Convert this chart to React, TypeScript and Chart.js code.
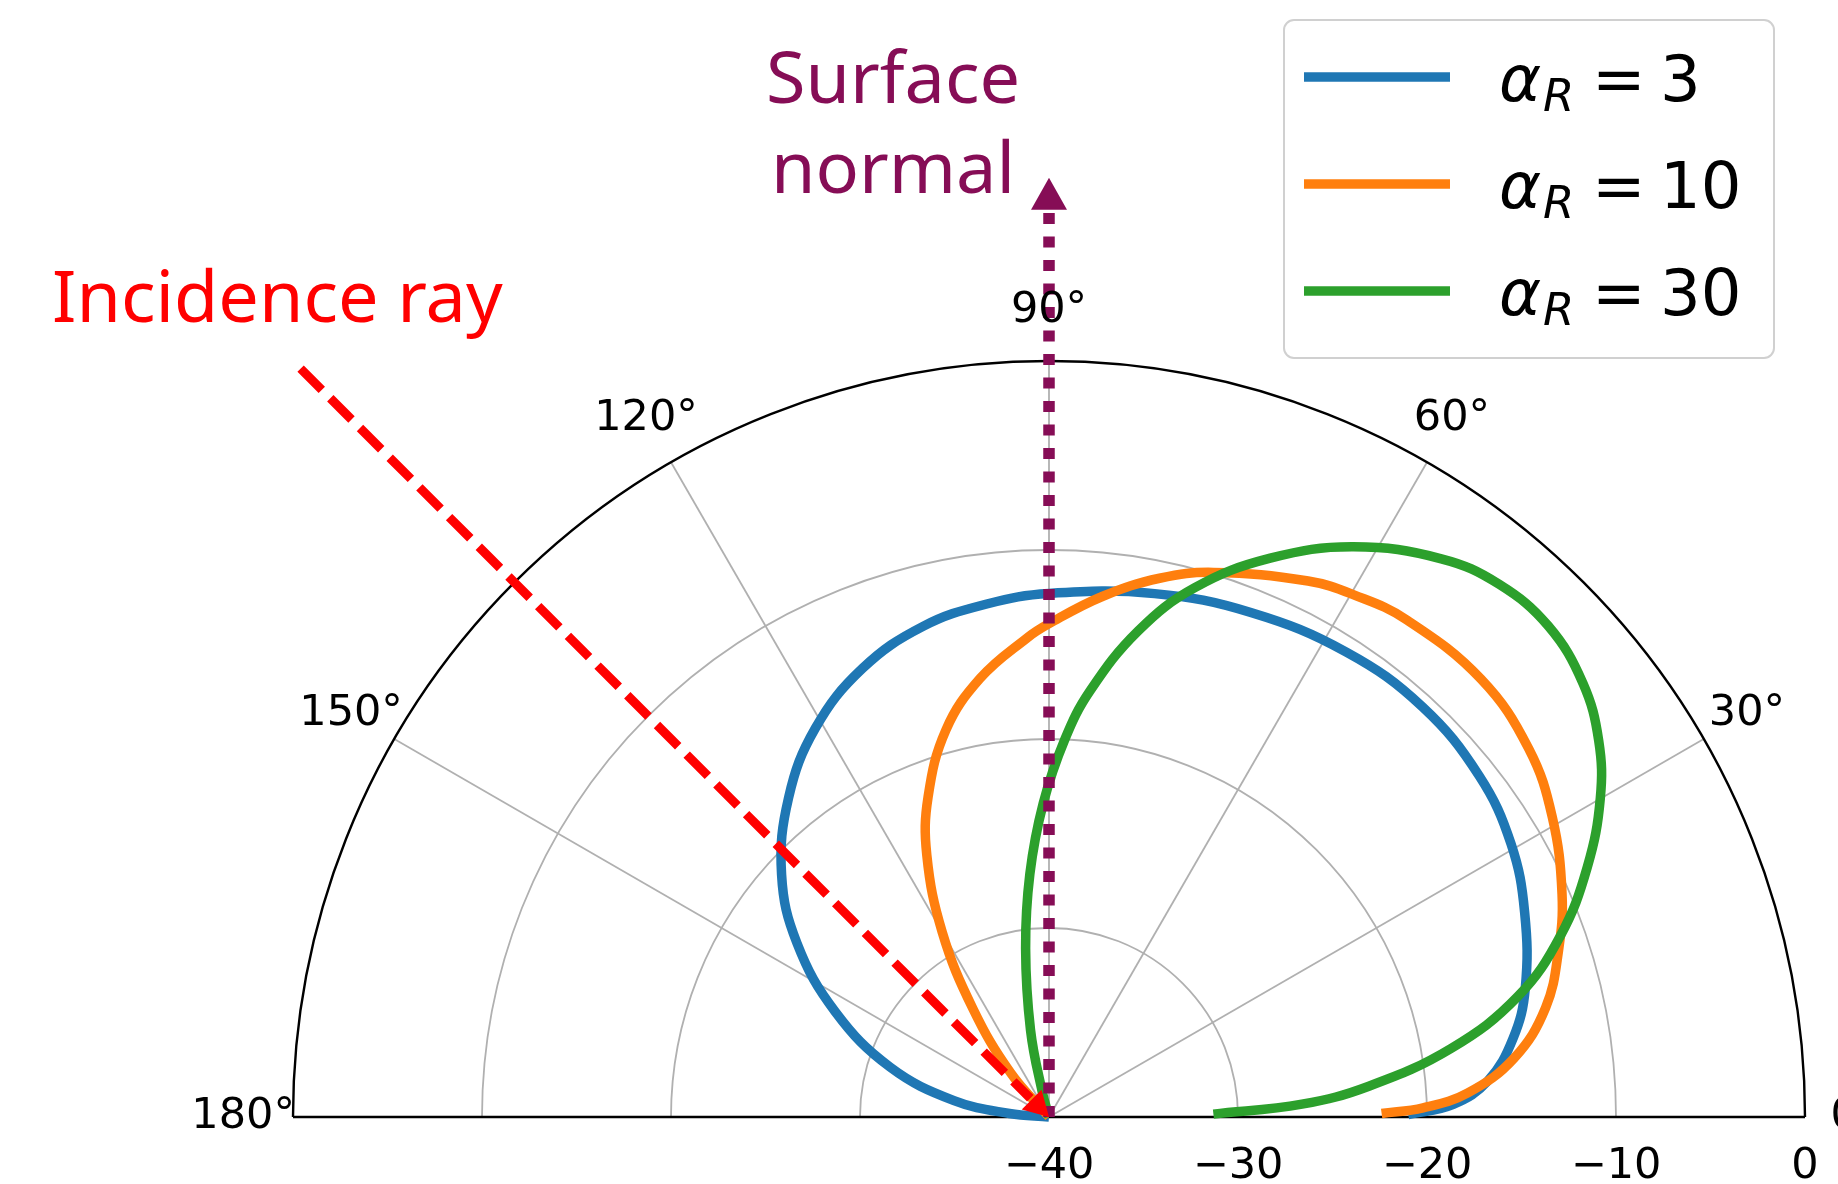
import React, { useEffect, useRef } from "react";
import { Chart, registerables } from "chart.js";
Chart.register(...registerables);

// ---- data ----
const R_MIN = -40;
const R_MAX = 0;
const radialTicks = [-40, -30, -20, -10, 0];
const ringLevels = [-30, -20, -10];
const angularTicks = [0, 30, 60, 90, 120, 150, 180];
const alphaValues = [3, 10, 30];
const seriesColors = ["#1f77b4", "#ff7f0e", "#2ca02c"];

// angle in degrees, level in dB
const blueTheta = [0.4, 1.8, 4.7, 9.6, 15.1, 23.3, 30.6, 38.4, 47.7, 57.4, 68.2, 78.6, 90, 96.8, 104.4, 112.6, 121, 129.2, 137.8, 145.4, 153.8, 162.6, 170.2, 175, 180];
const blueDb = [-21.0, -18.6, -16.7, -15.1, -13.9, -12.6, -11.6, -10.95, -10.65, -10.8, -11.25, -11.75, -12.3, -12.65, -13.2, -14.3, -16.0, -18.2, -20.9, -23.8, -27.4, -31.2, -34.9, -37.9, -40];

const orangeTheta = [0.6, 1.4, 3.3, 7.2, 12.4, 18.05, 23.5, 30.8, 37.5, 45.4, 54.4, 59.6, 64.2, 73.2, 78.4, 84.1, 90, 92.7, 98.9, 104.9, 110.7, 115, 120, 125.1, 131, 138];
const orangeDb = [-22.4, -20.2, -17.8, -15.2, -13.1, -11.65, -10.4, -9.0, -8.0, -7.45, -7.6, -8.0, -8.5, -9.9, -10.9, -12.3, -13.9, -14.65, -16.5, -18.8, -21.9, -24.7, -28.7, -33.0, -36.9, -40];

const greenTheta = [1.0, 2.9, 5.5, 9.7, 14.4, 19.5, 24.9, 30.05, 34.4, 39.1, 44.5, 49.8, 54.9, 61.9, 68.4, 74.6, 79.6, 84.5, 87.6, 91.05, 94.5, 97.9, 102, 105, 109];
const greenDb = [-31.3, -26.6, -23.0, -18.4, -14.4, -11.3, -8.6, -6.3, -4.75, -3.6, -2.95, -3.1, -3.9, -5.8, -8.2, -10.95, -13.85, -17.35, -20.0, -23.4, -27.1, -31.0, -35.3, -38.6, -40];

const incidenceTheta = [135, 135];
const incidenceDb = [16, -38.6];
const incidenceTipDb = -40;

const normalTheta = [90, 90];
const normalDb = [-40, 8.0];
const normalTipDb = 9.7;

// ---- helpers ----
const toXY = (thetaDeg: number, db: number) => {
  const r = Math.max(db, R_MIN) - R_MIN;
  const t = (thetaDeg * Math.PI) / 180;
  return { x: r * Math.cos(t), y: r * Math.sin(t) };
};
const pts = (th: number[], db: number[]) => th.map((t, i) => toXY(t, db[i]));

const W = 1838;
const H = 1184;
const CX = 1049;
const CY = 1117;
const RPX = 756;
const PPU = RPX / (R_MAX - R_MIN);
const PURPLE = "#860D56";

const polarPlugin = {
  id: "polarDecor",
  beforeDatasetsDraw(chart: any) {
    const { ctx } = chart;
    const xs = chart.scales.x;
    const ys = chart.scales.y;
    const cx = xs.getPixelForValue(0);
    const cy = ys.getPixelForValue(0);
    const ppu = xs.getPixelForValue(1) - cx;
    const R = (R_MAX - R_MIN) * ppu;
    ctx.save();
    ctx.strokeStyle = "#b0b0b0";
    ctx.lineWidth = 1.8;
    ringLevels.forEach((v) => {
      const r = (v - R_MIN) * ppu;
      ctx.beginPath();
      ctx.arc(cx, cy, r, Math.PI, 2 * Math.PI);
      ctx.stroke();
    });
    angularTicks.forEach((a) => {
      if (a === 0 || a === 180) return;
      const t = (a * Math.PI) / 180;
      ctx.beginPath();
      ctx.moveTo(cx, cy);
      ctx.lineTo(cx + R * Math.cos(t), cy - R * Math.sin(t));
      ctx.stroke();
    });
    ctx.strokeStyle = "#000";
    ctx.lineWidth = 2.4;
    ctx.beginPath();
    ctx.arc(cx, cy, R, Math.PI, 2 * Math.PI);
    ctx.stroke();
    ctx.beginPath();
    ctx.moveTo(cx - R, cy);
    ctx.lineTo(cx + R, cy);
    ctx.stroke();
    ctx.restore();
  },
  afterDatasetsDraw(chart: any) {
    const { ctx } = chart;
    const xs = chart.scales.x;
    const ys = chart.scales.y;
    const px = (p: { x: number; y: number }) => [xs.getPixelForValue(p.x), ys.getPixelForValue(p.y)];
    const head = (thetaDeg: number, baseDb: number, tipDb: number, halfW: number, color: string) => {
      const [bx, by] = px(toXY(thetaDeg, baseDb));
      const [tx, ty] = px(toXY(thetaDeg, tipDb));
      const dx = tx - bx;
      const dy = ty - by;
      const L = Math.hypot(dx, dy) || 1;
      const nx = -dy / L;
      const ny = dx / L;
      ctx.save();
      ctx.fillStyle = color;
      ctx.beginPath();
      ctx.moveTo(tx, ty);
      ctx.lineTo(bx + nx * halfW, by + ny * halfW);
      ctx.lineTo(bx - nx * halfW, by - ny * halfW);
      ctx.closePath();
      ctx.fill();
      ctx.restore();
    };
    head(incidenceTheta[0], -38.7, incidenceTipDb, 14, "#ff0000");
    head(normalTheta[0], normalDb[1], normalTipDb, 18, PURPLE);
  },
  afterDraw(chart: any) {
    const { ctx } = chart;
    const xs = chart.scales.x;
    const ys = chart.scales.y;
    const cx = xs.getPixelForValue(0);
    const cy = ys.getPixelForValue(0);
    const ppu = xs.getPixelForValue(1) - cx;
    const R = (R_MAX - R_MIN) * ppu;
    ctx.save();
    ctx.fillStyle = "#000";
    ctx.font = '43px "DejaVu Sans"';
    ctx.textAlign = "center";
    ctx.textBaseline = "middle";
    angularTicks.forEach((a) => {
      const t = (a * Math.PI) / 180;
      const rr = R * 1.066;
      ctx.fillText(`${a}°`, cx + rr * Math.cos(t), cy - rr * Math.sin(t));
    });
    ctx.textBaseline = "alphabetic";
    radialTicks.forEach((v) => {
      const x = cx + (v - R_MIN) * ppu;
      const label = v < 0 ? `\u2212${Math.abs(v)}` : `${v}`;
      ctx.fillText(label, x, cy + 61);
    });

    // annotations
    ctx.fillStyle = "#ff0000";
    ctx.font = '72px "Noto Sans"';
    ctx.textAlign = "left";
    ctx.fillText("Incidence ray", 52, 322);
    ctx.fillStyle = PURPLE;
    ctx.textAlign = "center";
    ctx.fillText("Surface", 893, 103);
    ctx.fillText("normal", 893, 193);

    // legend
    const lx = 1284, ly = 20, lw = 490, lh = 338;
    ctx.fillStyle = "rgba(255,255,255,0.9)";
    ctx.strokeStyle = "#d0d0d0";
    ctx.lineWidth = 2;
    ctx.beginPath();
    ctx.roundRect(lx, ly, lw, lh, 10);
    ctx.fill();
    ctx.stroke();
    alphaValues.forEach((a, i) => {
      const rowY = 77 + i * 107;
      ctx.strokeStyle = seriesColors[i];
      ctx.lineWidth = 9.5;
      ctx.lineCap = "butt";
      ctx.beginPath();
      ctx.moveTo(1304, rowY);
      ctx.lineTo(1450, rowY);
      ctx.stroke();
      const base = rowY + 24;
      ctx.fillStyle = "#000";
      ctx.textAlign = "left";
      ctx.font = 'italic 64px "DejaVu Sans"';
      ctx.fillText("\u03b1", 1499, base);
      ctx.font = 'italic 45px "DejaVu Sans"';
      ctx.fillText("R", 1543, base + 10);
      ctx.font = '64px "DejaVu Sans"';
      ctx.fillText("=", 1592, base);
      ctx.fillText(`${a}`, 1660, base);
    });
    ctx.restore();
  },
};

export default function App() {
  const ref = useRef<HTMLCanvasElement | null>(null);
  useEffect(() => {
    if (!ref.current) return;
    const lineDs = (label: string, data: any[], color: string, order: number) => ({
      label,
      data,
      showLine: true,
      borderColor: color,
      backgroundColor: color,
      borderWidth: 9.5,
      pointRadius: 0,
      pointHoverRadius: 0,
      tension: 0.4,
      cubicInterpolationMode: "default",
      fill: false,
      order,
      borderCapStyle: "butt",
      borderJoinStyle: "round",
    });
    const chart = new Chart(ref.current, {
      type: "line",
      data: {
        datasets: [
          lineDs(`α_R = ${alphaValues[0]}`, pts(blueTheta, blueDb), seriesColors[0], 5),
          lineDs(`α_R = ${alphaValues[1]}`, pts(orangeTheta, orangeDb), seriesColors[1], 4),
          lineDs(`α_R = ${alphaValues[2]}`, pts(greenTheta, greenDb), seriesColors[2], 3),
          {
            label: "Incidence ray",
            data: pts(incidenceTheta, incidenceDb),
            borderColor: "#ff0000",
            borderWidth: 9,
            borderDash: [30, 12],
            pointRadius: 0,
            pointHoverRadius: 0,
            tension: 0,
            fill: false,
            order: 2,
            borderCapStyle: "butt",
          },
          {
            label: "Surface normal",
            data: pts(normalTheta, normalDb),
            borderColor: PURPLE,
            borderWidth: 11.5,
            borderDash: [11, 12.5],
            pointRadius: 0,
            pointHoverRadius: 0,
            tension: 0,
            fill: false,
            order: 1,
            borderCapStyle: "butt",
          },
        ] as any,
      },
      options: {
        responsive: false,
        maintainAspectRatio: false,
        animation: false,
        events: [],
        layout: { padding: 0 },
        plugins: { legend: { display: false }, tooltip: { enabled: false } },
        scales: {
          x: { type: "linear", display: false, min: -CX / PPU, max: (W - CX) / PPU },
          y: { type: "linear", display: false, min: -(H - CY) / PPU, max: CY / PPU },
        },
      },
      plugins: [polarPlugin],
    });
    return () => chart.destroy();
  }, []);
  return (
    <div style={{ position: "fixed", left: 0, top: 0, width: W, height: H, background: "#fff" }}>
      <canvas ref={ref} width={W} height={H} style={{ display: "block" }} />
    </div>
  );
}
